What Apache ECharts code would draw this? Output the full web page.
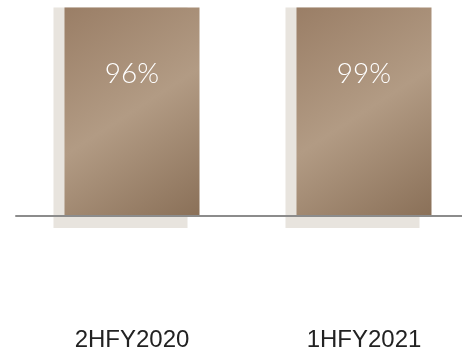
<!DOCTYPE html>
<html>
<head>
<meta charset="utf-8">
<script src="https://cdn.jsdelivr.net/npm/echarts@6/dist/echarts.min.js"></script>
<style>
html,body{margin:0;padding:0;background:#fff;}
#c{width:462px;height:355px;}
</style>
</head>
<body>
<div id="c"></div>
<script>
const categories = ['2HFY2020', '1HFY2021'];
const values = [96, 99];
const labelTexts = ['96%', '99%'];

const chart = echarts.init(document.getElementById('c'), null, {renderer: 'canvas'});
const grad = new echarts.graphic.LinearGradient(0, 0, 1, 1, [
  {offset: 0, color: '#9a7e66'},
  {offset: 0.5, color: '#b29b84'},
  {offset: 1, color: '#8a7058'}
]);
chart.setOption({
  animation: false,
  grid: [
    {left: 16, width: 464, top: 7.5, bottom: 139, outerBoundsMode: 'none', containLabel: false},
    {left: 4.5, width: 464, top: 7.5, bottom: 127, outerBoundsMode: 'none', containLabel: false}
  ],
  xAxis: [
    {type: 'category', gridIndex: 0, data: categories, z: 5,
     axisLine: {lineStyle: {color: '#8c8c8c', width: 2}},
     axisTick: {show: false},
     axisLabel: {margin: 112, fontSize: 24, color: '#222', fontFamily: 'Liberation Sans, Arial, sans-serif'}},
    {type: 'category', gridIndex: 1, data: categories, show: false}
  ],
  yAxis: [
    {type: 'value', gridIndex: 0, min: 0, max: 90, show: false},
    {type: 'value', gridIndex: 1, min: 0, max: 90, show: false}
  ],
  series: [
    {type: 'bar', xAxisIndex: 1, yAxisIndex: 1, data: values, barWidth: 134, clip: true, z: 1,
     itemStyle: {color: '#e8e4de'}, silent: true},
    {type: 'bar', xAxisIndex: 0, yAxisIndex: 0, data: values, barWidth: 135, clip: true, z: 2,
     itemStyle: {color: grad},
     label: {show: true, position: 'insideTop', distance: 52,
       formatter: p => labelTexts[p.dataIndex],
       color: '#fff', fontSize: 28, fontWeight: 300, fontFamily: 'Lato, Liberation Sans, sans-serif'}}
  ]
});
</script>
</body>
</html>
